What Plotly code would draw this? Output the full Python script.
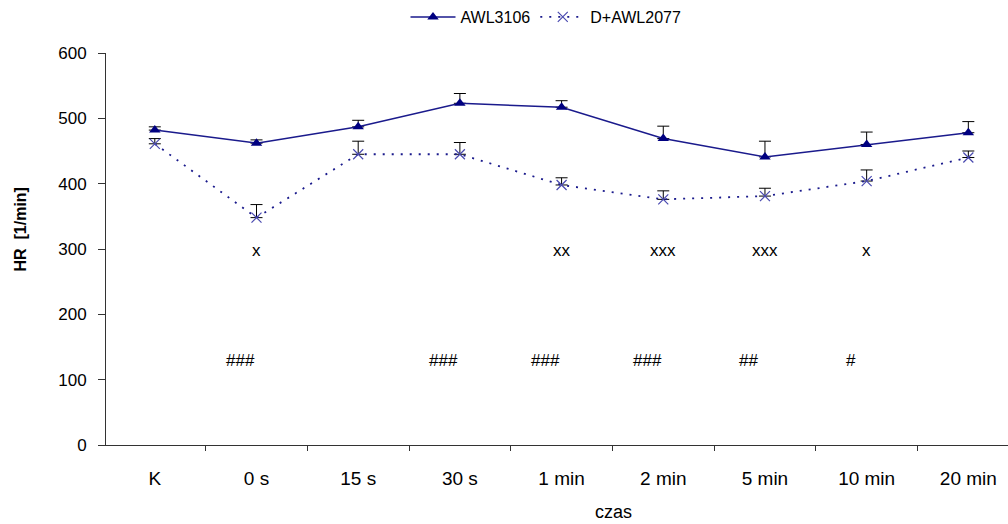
import plotly.graph_objects as go

categories = ["K", "0 s", "15 s", "30 s", "1 min", "2 min", "5 min", "10 min", "20 min"]
awl3106 = [482, 462, 487, 523, 517, 469, 441, 460, 478]
awl3106_err = [5, 5, 10, 15, 10, 19, 24, 19, 17]
dawl2077 = [461, 348, 445, 445, 398, 376, 381, 404, 440]
dawl2077_err = [8, 20, 20, 18, 11, 13, 12, 17, 10]

x_marks_cat = ["0 s", "1 min", "2 min", "5 min", "10 min"]
x_marks_txt = ["x", "xx", "xxx", "xxx", "x"]
x_marks_y = 300
hash_marks_cat = ["0 s", "30 s", "1 min", "2 min", "5 min", "10 min"]
hash_marks_txt = ["###", "###", "###", "###", "##", "#"]
hash_marks_y = 130

NAVY = "#1a1a8c"
XCOL = "#4a4ab0"
FONT = "Liberation Sans, Arial, sans-serif"

fig = go.Figure()
fig.add_trace(go.Scatter(
    x=categories, y=awl3106, name="AWL3106", mode="lines+markers",
    line=dict(color=NAVY, width=1.5),
    marker=dict(symbol="triangle-up", size=10, color="#000080"),
    error_y=dict(type="data", array=awl3106_err, arrayminus=[0] * len(awl3106_err),
                 symmetric=False, color="black", thickness=1, width=6),
))
fig.add_trace(go.Scatter(
    x=categories, y=dawl2077, name="D+AWL2077", mode="lines+markers",
    line=dict(color=NAVY, width=1.8, dash="2px,7px"),
    marker=dict(symbol="x-thin", size=10, color=XCOL, line=dict(color=XCOL, width=1.2)),
    error_y=dict(type="data", array=dawl2077_err, arrayminus=[0] * len(dawl2077_err),
                 symmetric=False, color="black", thickness=1, width=6),
))

annotations = []
for c, t in zip(x_marks_cat, x_marks_txt):
    annotations.append(dict(x=c, y=x_marks_y, xref="x", yref="y", text=t, showarrow=False,
                            yshift=-1, font=dict(family=FONT, size=17, color="black")))
for c, t in zip(hash_marks_cat, hash_marks_txt):
    annotations.append(dict(x=c, y=hash_marks_y, xref="x", yref="y", text=t, showarrow=False,
                            xshift=-16, font=dict(family=FONT, size=17, color="black")))
annotations.append(dict(x=(20 - 106) / 902, y=(445 - 230) / 392, xref="paper", yref="paper",
                        text="<b>HR  [1/min]</b>", textangle=-90, showarrow=False, xshift=-11,
                        font=dict(family=FONT, size=16, color="black")))
annotations.append(dict(x=(613 - 106) / 902, y=(445 - 512) / 392, xref="paper", yref="paper",
                        text="czas", showarrow=False, yanchor="middle",
                        font=dict(family=FONT, size=18, color="black")))

fig.update_layout(
    width=1008, height=524,
    margin=dict(l=106, r=0, t=53, b=79),
    paper_bgcolor="white", plot_bgcolor="white",
    font=dict(family=FONT, size=16, color="black"),
    showlegend=True,
    legend=dict(orientation="h", xref="container", yref="container",
                x=546 / 1008, xanchor="center", y=1.0, yanchor="top",
                font=dict(family=FONT, size=16, color="black"),
                bgcolor="rgba(0,0,0,0)", itemwidth=45),
    annotations=annotations,
)
fig.update_xaxes(
    type="category", categoryorder="array", categoryarray=categories,
    range=[-0.48, 8.39], showgrid=False, zeroline=False,
    showline=True, linecolor="#333333", linewidth=1,
    ticks="outside", tickson="boundaries", ticklen=5, tickcolor="#333333",
    ticklabelstandoff=16, tickfont=dict(family=FONT, size=19, color="black"),
)
fig.update_yaxes(
    range=[0, 600], tickvals=[0, 100, 200, 300, 400, 500, 600],
    showgrid=False, zeroline=False,
    showline=True, linecolor="#333333", linewidth=1,
    ticks="outside", ticklen=7, tickcolor="#333333",
    ticklabelstandoff=8, tickfont=dict(family=FONT, size=17, color="black"),
)

fig.write_html("out.html")
